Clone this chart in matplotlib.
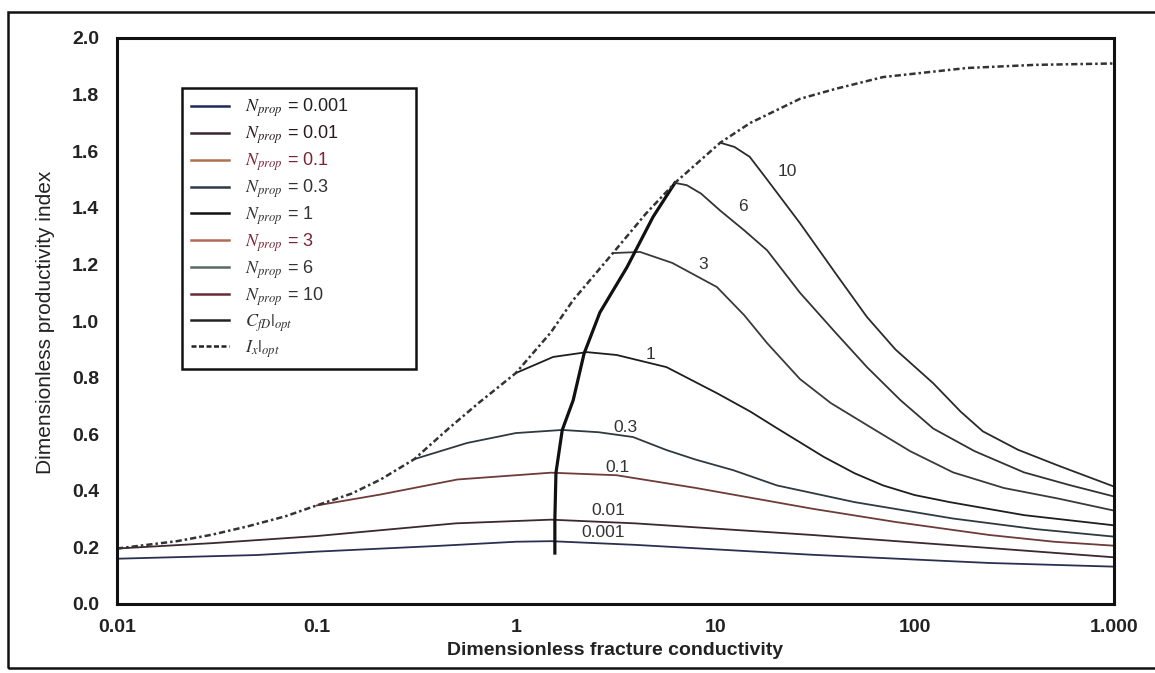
import numpy as np
import matplotlib
matplotlib.use("Agg")
import matplotlib.pyplot as plt
from matplotlib.lines import Line2D
from matplotlib.patches import Rectangle

plt.rcParams["font.family"] = ["Liberation Sans", "DejaVu Sans"]
plt.rcParams["mathtext.fontset"] = "stix"

# -------------------------
# Data
# -------------------------
nprop_values = ["0.001", "0.01", "0.1", "0.3", "1", "3", "6", "10"]

# Ix|opt envelope (dotted)
env_x = [0.01, 0.02, 0.03, 0.045, 0.07, 0.1, 0.15, 0.21, 0.31, 0.46, 0.65, 1.0, 1.5, 1.94,
         3.07, 4.5, 6.28, 10.6, 15, 26.6, 40, 69.5, 183, 400, 1000]
env_y = [0.196, 0.222, 0.245, 0.274, 0.31, 0.348, 0.39, 0.44, 0.512, 0.62, 0.71, 0.816, 0.96, 1.074,
         1.24, 1.38, 1.488, 1.63, 1.70, 1.785, 1.82, 1.862, 1.894, 1.905, 1.91]

# CfD|opt (thick solid)
cfd_x = [1.57, 1.57, 1.59, 1.71, 1.94, 2.2, 2.64, 3.61, 4.88, 6.28]
cfd_y = [0.18, 0.30, 0.464, 0.615, 0.72, 0.885, 1.03, 1.19, 1.368, 1.488]

# one curve per proppant number
n0001_x = [0.01, 0.05, 0.1, 0.4, 1.0, 1.5, 3.96, 30.5, 236, 1000]
n0001_y = [0.16, 0.173, 0.185, 0.205, 0.22, 0.222, 0.209, 0.174, 0.145, 0.132]

n001_x = [0.01, 0.03, 0.1, 0.5, 1.5, 3.96, 30.5, 236, 1000]
n001_y = [0.196, 0.215, 0.24, 0.285, 0.298, 0.285, 0.244, 0.198, 0.165]

n01_x = [0.1, 0.21, 0.51, 1.5, 3.2, 8, 30.5, 80, 236, 500, 1000]
n01_y = [0.348, 0.387, 0.44, 0.464, 0.455, 0.41, 0.337, 0.29, 0.244, 0.22, 0.206]

n03_x = [0.31, 0.57, 1.0, 1.71, 2.6, 3.87, 5.7, 8, 12.3, 20.4, 50, 156, 400, 1000]
n03_y = [0.512, 0.569, 0.604, 0.615, 0.607, 0.59, 0.544, 0.51, 0.473, 0.419, 0.36, 0.302, 0.265, 0.238]

n1_x = [1.0, 1.54, 2.27, 3.2, 5.7, 10.2, 15, 20, 35, 50, 69.5, 100, 150, 354, 1000]
n1_y = [0.816, 0.873, 0.89, 0.88, 0.837, 0.745, 0.68, 0.625, 0.52, 0.462, 0.419, 0.385, 0.36, 0.314, 0.278]

n3_x = [3.07, 4.2, 6.1, 10.2, 14, 18.2, 26.6, 38, 60, 95, 156, 280, 530, 1000]
n3_y = [1.24, 1.244, 1.205, 1.12, 1.02, 0.922, 0.795, 0.71, 0.625, 0.54, 0.465, 0.41, 0.372, 0.33]

n6_x = [6.28, 7.2, 8.5, 10.6, 14, 18.2, 26.6, 40, 57.7, 85, 124, 200, 354, 600, 1000]
n6_y = [1.488, 1.48, 1.45, 1.39, 1.32, 1.25, 1.10, 0.96, 0.837, 0.72, 0.62, 0.54, 0.465, 0.42, 0.38]

n10_x = [10.6, 12.5, 14.9, 18.2, 26.6, 40, 57.7, 80, 124, 170, 220, 330, 530, 1000]
n10_y = [1.63, 1.615, 1.58, 1.50, 1.346, 1.17, 1.014, 0.90, 0.78, 0.68, 0.61, 0.545, 0.488, 0.415]

curves_x = [n0001_x, n001_x, n01_x, n03_x, n1_x, n3_x, n6_x, n10_x]
curves_y = [n0001_y, n001_y, n01_y, n03_y, n1_y, n3_y, n6_y, n10_y]

# labels written on the curves
lab_text = ["10", "6", "3", "1", "0.3", "0.1", "0.01", "0.001"]
lab_x = [22.9, 13.8, 8.68, 4.71, 3.53, 3.22, 2.9, 2.75]
lab_y = [1.527, 1.403, 1.198, 0.88, 0.622, 0.484, 0.332, 0.251]

x_ticks = [0.01, 0.1, 1, 10, 100, 1000]
x_ticklabels = ["0.01", "0.1", "1", "10", "100", "1.000"]
y_ticks = np.arange(0, 2.01, 0.2)

# styling
plot_colors = ["#2b3050", "#3b2830", "#6e3b38", "#2e3a40", "#1e1e1e", "#3a3a3a", "#333333", "#2a2a2a"]
legend_colors = ["#1f2a5a", "#3d2530", "#b07050", "#2f3a45", "#111111", "#b06a55", "#5a6868", "#6a2a35"]
text_colors = ["#222222", "#2a1a20", "#7a2535", "#333333", "#333333", "#7a2535", "#333333", "#333333"]

# -------------------------
# Plot
# -------------------------
fig = plt.figure(figsize=(11.55, 6.73), dpi=100)
ax = fig.add_axes([117 / 1155, 69 / 673, 997 / 1155, 566 / 673])

for cx, cy, col in zip(curves_x, curves_y, plot_colors):
    ax.plot(cx, cy, color=col, lw=1.3, solid_capstyle="round", solid_joinstyle="round")

ax.plot(cfd_x, cfd_y, color="#111111", lw=2.3, solid_joinstyle="round")
ax.plot(env_x, env_y, color="#333333", lw=1.8, linestyle=(0, (2.5, 1.2, 1, 1.2)))

for t, lx, ly in zip(lab_text, lab_x, lab_y):
    ax.text(lx, ly, t, fontsize=12.5, color="#333333", ha="center", va="center")

ax.set_xscale("log")
ax.set_xlim(0.01, 1000)
ax.set_ylim(0, 2.0)
ax.set_xticks(x_ticks)
ax.set_xticklabels(x_ticklabels)
ax.xaxis.set_minor_locator(matplotlib.ticker.NullLocator())
ax.set_yticks(y_ticks)
ax.set_yticklabels([f"{v:.1f}" for v in y_ticks])
ax.tick_params(axis="both", length=0, labelsize=14)
ax.tick_params(axis="x", pad=11)
ax.tick_params(axis="y", pad=13)
for lbl in ax.get_xticklabels() + ax.get_yticklabels():
    lbl.set_fontweight("bold")
    lbl.set_color("#222222")
for sp in ax.spines.values():
    sp.set_linewidth(2.2)
    sp.set_color("#111111")

ax.set_xlabel("Dimensionless fracture conductivity", fontsize=14, fontweight="bold", color="#222222")
ax.xaxis.set_label_coords(0.5, -0.068)
ax.set_ylabel("Dimensionless productivity index", fontsize=15, color="#222222")
ax.yaxis.set_label_coords(-0.062, 0.497)

# legend
handles = [Line2D([], [], color=c, lw=1.8) for c in legend_colors]
handles.append(Line2D([], [], color="#222222", lw=1.8))
handles.append(Line2D([], [], color="#222222", lw=1.8, linestyle=(0, (2, 1))))
labels = [r"$N_{prop}$ = " + v for v in nprop_values]
labels += [r"$C_{fD}|_{opt}$", r"$I_{x}|_{opt}$"]
leg = ax.legend(handles, labels, loc="upper left", bbox_to_anchor=(0.065, 0.422, 0.235, 0.49),
                mode="expand", fontsize=13, handlelength=2.1, handletextpad=0.9,
                labelspacing=0.24, borderpad=0.5, borderaxespad=0, fancybox=False, framealpha=1)
leg.get_frame().set_edgecolor("#111111")
leg.get_frame().set_linewidth(1.8)
for txt, col in zip(leg.get_texts(), text_colors + ["#333333", "#333333"]):
    txt.set_color(col)

# outer border of the figure
fig.add_artist(Rectangle((8 / 1155, 5 / 673), 1.2, 656 / 673, transform=fig.transFigure,
                         fill=False, lw=1.8, edgecolor="#111111", clip_on=False))

fig.savefig("out.png", dpi=100)
